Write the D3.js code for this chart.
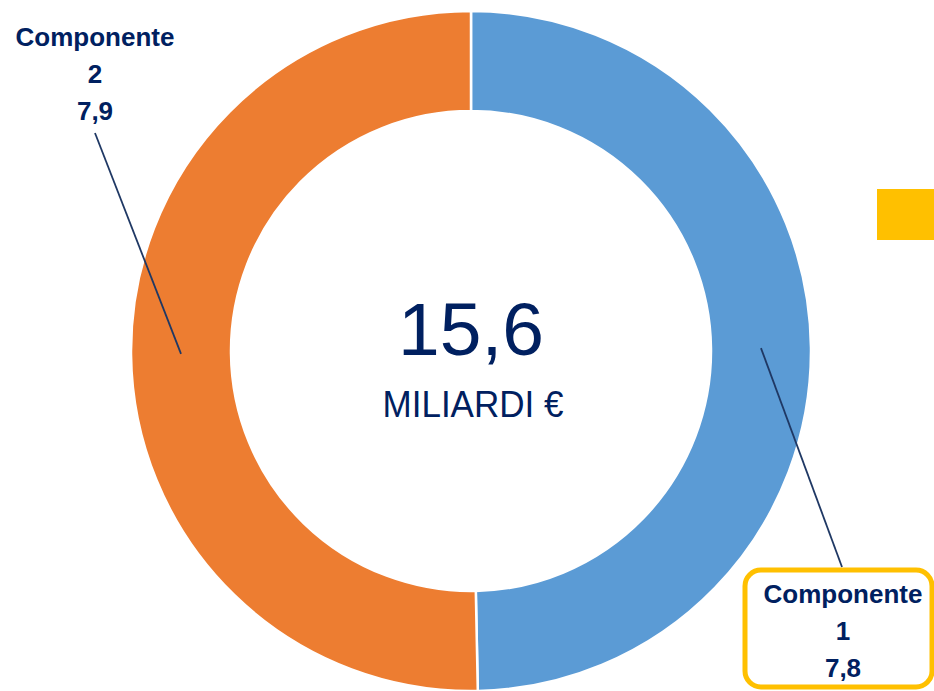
<html>
<head>
<script src="https://cdn.jsdelivr.net/npm/d3@7"></script>
<style>
  body { margin: 0; background: #fff; }
  text { font-family: "Liberation Sans", Arial, sans-serif; fill: #002060; }
</style>
</head>
<body>
<svg width="934" height="691"></svg>
<script>
// data
const names = ["Componente", "Componente"];
const ids = ["1", "2"];
const values = [7.8, 7.9];
const valueLabels = ["7,8", "7,9"];
const colors = ["#5B9BD5", "#ED7D31"];
const totalLabel = "15,6";
const unitLabel = "MILIARDI €";

const svg = d3.select("svg");
const cx = 471, cy = 351;
const outer = 340, inner = 240;

const pie = d3.pie().sort(null).value(d => d);
const arc = d3.arc().innerRadius(inner).outerRadius(outer);
const arcs = pie(values);

const g = svg.append("g").attr("transform", "translate(" + cx + "," + cy + ")");

g.selectAll("path")
  .data(arcs)
  .enter()
  .append("path")
    .attr("d", arc)
    .attr("fill", (d, i) => colors[i])
    .attr("stroke", "#fff")
    .attr("stroke-width", 2.5);

// centre text
g.append("text")
  .attr("text-anchor", "middle")
  .attr("y", 4)
  .style("font-size", "75px")
  .text(totalLabel);
g.append("text")
  .attr("text-anchor", "middle")
  .attr("y", 66)
  .style("font-size", "36px")
  .attr("textLength", 181)
  .attr("lengthAdjust", "spacingAndGlyphs")
  .attr("x", 2)
  .text(unitLabel);

// yellow square at right edge
svg.append("rect")
  .attr("x", 877).attr("y", 189)
  .attr("width", 60).attr("height", 51)
  .attr("fill", "#FFC000");

// label positions (centre x, first baseline) and leader start
const labelPos = [
  { x: 843, y: 603, lx: 842, ly: 567 },
  { x: 95, y: 46, lx: 95, ly: 133 }
];

// box round label 1
svg.append("rect")
  .attr("x", 745).attr("y", 570)
  .attr("width", 187).attr("height", 117)
  .attr("rx", 16)
  .attr("fill", "#fff")
  .attr("stroke", "#FFC000")
  .attr("stroke-width", 5);

arcs.forEach(function(d, i) {
  const c = arc.centroid(d);
  const p = labelPos[i];
  svg.append("line")
    .attr("x1", p.lx).attr("y1", p.ly)
    .attr("x2", cx + c[0]).attr("y2", cy + c[1])
    .attr("stroke", "#1F3864")
    .attr("stroke-width", 1.8);
  const t = svg.append("text")
    .attr("text-anchor", "middle")
    .style("font-size", "26px")
    .style("font-weight", "bold");
  [names[i], ids[i], valueLabels[i]].forEach(function(s, k) {
    t.append("tspan")
      .attr("x", p.x)
      .attr("y", p.y + k * 37)
      .text(s);
  });
});
</script>
</body>
</html>
